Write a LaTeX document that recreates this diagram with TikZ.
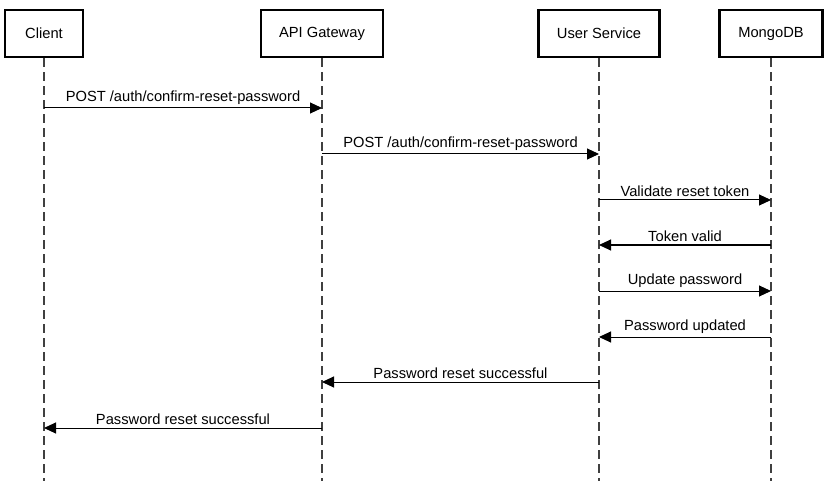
\documentclass[tikz,border=0pt]{standalone}
\usepackage{fontspec}
\setmainfont{Liberation Sans}
\usetikzlibrary{arrows.meta}
\begin{document}
\begin{tikzpicture}[x=1pt,y=-1pt,
  actor/.style={draw=black,line width=2.2pt,fill=white,minimum height=47pt,inner sep=0pt,font=\fontsize{14.7}{17}\selectfont},
  lifeline/.style={draw=black!75,line width=1.3pt,dash pattern=on 9pt off 5pt},
  msg/.style={draw=black,line width=1pt,-{Triangle[length=12pt,width=11pt]}},
  lbl/.style={font=\fontsize{14.7}{17}\selectfont,inner sep=0pt,anchor=base}]
\useasboundingbox[fill=white] (0,0) rectangle (829,486);
% actors
\node[actor,minimum width=78pt] (client) at (44,33.5) {Client};
\node[actor,minimum width=122pt] (gw) at (322,33.5) {API Gateway};
\node[actor,minimum width=121pt] (us) at (599,33.5) {User Service};
\node[actor,minimum width=103pt] (db) at (771,33.5) {MongoDB};
% lifeline ends
\coordinate (clientE) at (44,481);
\coordinate (gwE) at (322,481);
\coordinate (usE) at (599,481);
\coordinate (dbE) at (771,481);
\draw[lifeline] (client.south) -- (clientE);
\draw[lifeline] (gw.south) -- (gwE);
\draw[lifeline] (us.south) -- (usE);
\draw[lifeline] (db.south) -- (dbE);
% message points
\foreach \n/\x in {c/44,g/322,u/599,d/771}{
  \foreach \i/\y in {1/108,2/154,3/200,4/245,5/291,6/337,7/382,8/428}{
    \coordinate (\n\i) at (\x,\y);
  }
}
\draw[msg] (c1) -- node[lbl,above=2.5pt] (t1) {POST /auth/confirm-reset-password} (g1);
\draw[msg] (g2) -- node[lbl,above=2.5pt] (t2) {POST /auth/confirm-reset-password} (u2);
\draw[msg] (u3) -- node[lbl,above=2.5pt] (t3) {Validate reset token} (d3);
\draw[msg] (d4) -- node[lbl,above=2.5pt] (t4) {Token valid} (u4);
\draw[msg] (u5) -- node[lbl,above=2.5pt] (t5) {Update password} (d5);
\draw[msg] (d6) -- node[lbl,above=2.5pt] (t6) {Password updated} (u6);
\draw[msg] (u7) -- node[lbl,above=2.5pt] (t7) {Password reset successful} (g7);
\draw[msg] (g8) -- node[lbl,above=2.5pt] (t8) {Password reset successful} (c8);
\end{tikzpicture}
\end{document}
